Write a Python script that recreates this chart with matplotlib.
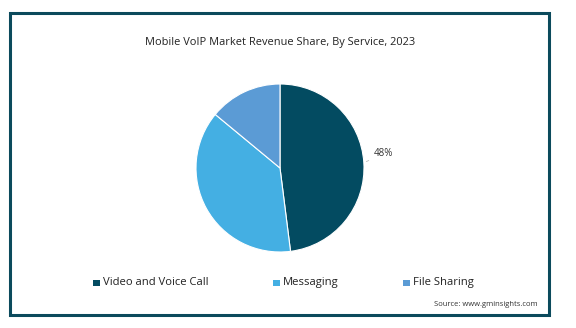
import numpy as np
import matplotlib.pyplot as plt
from matplotlib.patches import Rectangle

plt.rcParams['font.family'] = ['Open Sans', 'DejaVu Sans']

services = ["Video and Voice Call", "Messaging", "File Sharing"]
shares = [48, 38, 14]
colors = ["#034b61", "#44afe3", "#5b9bd5"]
title = "Mobile VoIP Market Revenue Share, By Service, 2023"
source = "Source: www.gminsights.com"

fig = plt.figure(figsize=(5.76, 3.28), dpi=100)

# outer frame
fig.patches.append(Rectangle((10 / 576, 1 - 315 / 328), 539 / 576, 302 / 328,
                             transform=fig.transFigure, fill=False,
                             edgecolor="#0b4a5c", linewidth=2.2))

ax = fig.add_axes([196 / 576, 76 / 328, 168 / 576, 168 / 328])
wedges, _ = ax.pie(shares, colors=colors, startangle=90, counterclock=False,
                   radius=1, wedgeprops=dict(edgecolor="white", linewidth=0.8))
ax.set_xlim(-1, 1)
ax.set_ylim(-1, 1)
ax.set_aspect('equal')

# label only the largest slice
mid = np.deg2rad(90 - shares[0] / 100 * 360 / 2)
ax.annotate(f"{shares[0]}%", xy=(np.cos(mid), np.sin(mid)), xytext=(1.12, 0.17),
            fontsize=7, color="#333333", va='center', ha='left',
            arrowprops=dict(arrowstyle='-', color="#bbbbbb", lw=0.6))

fig.text(280 / 576, 1 - 43 / 328, title, ha='center', va='center',
         fontsize=7.9, color="#222222")

# legend
leg_x = [93, 273, 403]
for name, col, x in zip(services, colors, leg_x):
    fig.patches.append(Rectangle((x / 576, 1 - 286 / 328), 6.5 / 576, 6.5 / 328,
                                 transform=fig.transFigure, facecolor=col,
                                 edgecolor='none'))
    fig.text((x + 10) / 576, 1 - 282.5 / 328, name, ha='left', va='center',
             fontsize=8.1, color="#222222")

fig.text(538 / 576, 1 - 305 / 328, source, ha='right', va='center',
         fontsize=5.5, color="#333333")

fig.savefig("out.png", dpi=100, facecolor="white")
